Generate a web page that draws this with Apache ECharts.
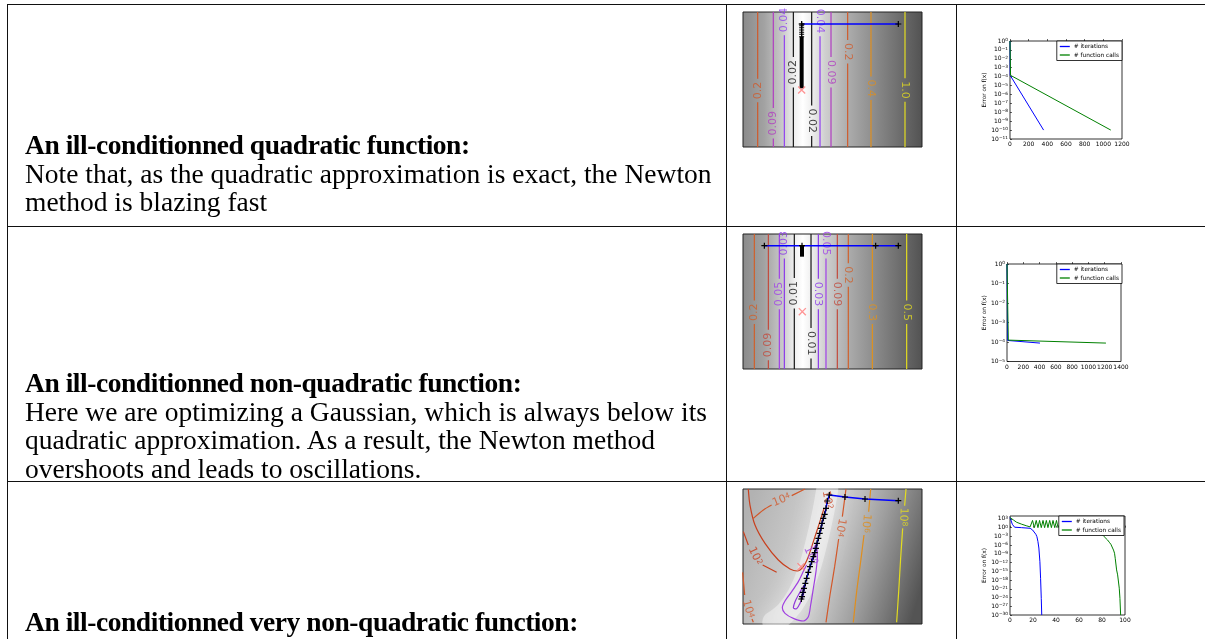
<!DOCTYPE html>
<html><head><meta charset="utf-8">
<script src="https://cdn.jsdelivr.net/npm/echarts@6.0.0/dist/echarts.min.js"></script>
<style>
html,body{margin:0;padding:0;background:#fff;width:1205px;height:639px;overflow:hidden}
#chart{position:absolute;left:0;top:0;width:1205px;height:639px}
.hl,.vl{position:absolute;background:#111}
.hl{height:1px}.vl{width:1px}
.txt{position:absolute;left:25px;font-family:'Liberation Serif','Times New Roman',serif;font-size:27.5px;line-height:28.5px;white-space:nowrap;color:#000}
.txt b{letter-spacing:-0.45px}
</style></head>
<body>
<div id="chart"></div>
<div class="hl" style="left:7px;top:4px;width:1198px"></div>
<div class="hl" style="left:7px;top:226px;width:1198px"></div>
<div class="hl" style="left:7px;top:481px;width:1198px"></div>
<div class="vl" style="left:7px;top:4px;height:635px"></div>
<div class="vl" style="left:726px;top:4px;height:635px"></div>
<div class="vl" style="left:956px;top:4px;height:635px"></div>
<div class="txt" style="top:131px"><b>An ill-conditionned quadratic function:</b><br>Note that, as the quadratic approximation is exact, the Newton<br>method is blazing fast</div>
<div class="txt" style="top:369px"><b>An ill-conditionned non-quadratic function:</b><br>Here we are optimizing a Gaussian, which is always below its<br>quadratic approximation. As a result, the Newton method<br>overshoots and leads to oscillations.</div>
<div class="txt" style="top:608px"><b>An ill-conditionned very non-quadratic function:</b></div>
<script>
// ================= DATA =================
const GAP = ['-', '-'];
const X_MIN = -1, X_MAX = 2, Y_MIN = -1, Y_MAX = 1.25;

// Panel A: ill-conditioned quadratic (vertical contour lines)
const levelsA   = ['0.2','0.09','0.04','0.02','0.02','0.04','0.09','0.2','0.4','1.0'];
const contourXA = [-0.754,-0.492,-0.307,-0.156,0.151,0.291,0.475,0.754,1.145,1.715];
const labelYA   = [-0.06,-0.606,1.117,0.244,-0.561,1.1,0.244,0.589,-0.022,-0.05];
const bluePathA  = [[1.603,1.05],[-0.017,1.05]];
const blackPathA = [[-0.017,1.05],[-0.017,1.022],[-0.017,0.989],[-0.017,0.95],[-0.017,0.911],[-0.017,0.878],[-0.017,0.839]];
const denseRunA  = [[-0.017,0.839],[-0.017,-0.022]];
const minimumA   = [-0.017,-0.05];

// Panel B: ill-conditioned non-quadratic (Gaussian)
const levelsB   = ['0.2','0.09','0.05','0.03','0.01','0.01','0.03','0.05','0.09','0.2','0.3','0.5'];
const contourXB = [-0.810,-0.575,-0.391,-0.307,-0.140,0.140,0.263,0.391,0.581,0.765,1.168,1.743];
const labelYB   = [-0.056,-0.6,0.25,1.094,0.261,-0.572,0.25,1.094,0.25,0.567,-0.056,-0.056];
const bluePathB = [[1.603,1.056],[1.223,1.056],[-0.011,1.056],[-0.642,1.056]];
const denseRunB = [[-0.011,1.067],[-0.011,0.872]];
const minimumB  = [-0.006,-0.044];

// Panel C: very non-quadratic (Rosenbrock-like) contour polylines
const rosen8   = [[1.732,1.25],[1.709,0.972],GAP,[1.676,0.594],[1.642,0.094],[1.609,-0.461],[1.575,-0.972]];
const rosen6   = [[1.140,1.25],[1.106,0.872],GAP,[1.028,0.483],[0.972,0.039],[0.905,-0.461],[0.849,-0.972]];
const rosen4r  = [[0.726,1.25],[0.665,0.789],GAP,[0.603,0.417],[0.536,-0.044],[0.458,-0.517],[0.391,-0.972]];
const rosen4tl = [[-0.827,0.761],[-0.659,0.9],[-0.520,0.983],GAP,[-0.184,1.139],[0.039,1.25]];
const rosen4bl = [[-1.006,-0.139],[-0.972,-0.517],GAP,[-0.849,-0.917],[-0.827,-0.972]];
const rosen2u  = [[-0.911,1.25],[-0.883,0.983],[-0.799,0.65],[-0.631,0.344],[-0.408,0.067],[-0.212,-0.083],[-0.089,-0.117],[0.011,-0.044],[0.095,0.122],[0.179,0.372],[0.279,0.678],[0.358,0.928]];
const rosen2l  = [[-0.994,0.539],[-0.911,0.317],GAP,[-0.670,-0.017],[-0.436,-0.139]];
const rosen0   = [[0.190,0.261],[0.223,0.328],[0.246,0.122],[0.223,-0.128],[0.179,-0.406],[0.134,-0.683],[0.095,-0.878],[0.011,-0.95],[-0.156,-0.906],[-0.296,-0.822],[-0.341,-0.728],[-0.296,-0.617],[-0.184,-0.461],[-0.073,-0.294],[0.022,-0.1],[0.067,-0.017]];
const rosenM1  = [[0.039,-0.35],[0.011,-0.517],[-0.045,-0.656],[-0.112,-0.75],[-0.156,-0.728],[-0.128,-0.628],[-0.056,-0.489],[0.011,-0.378],[0.039,-0.35]];
const rosenLabelPos = [[1.687,0.783],[1.061,0.678],[0.631,0.606],[-0.352,1.067],[-0.916,-0.75],[0.413,1.067],[-0.799,0.133],[0.134,0.139]];
const rosenLabelExp = ['8','6','4','4','4','2','2','0'];
const valleyC  = [[0.413,1.25],[0.346,0.872],[0.235,0.372],[0.095,-0.128],[-0.073,-0.517],[-0.268,-0.794],[-0.492,-0.972]];
const pathC = [[1.603,1.056],[1.045,1.083],[0.709,1.117],[0.447,1.15],[0.413,1.05],[0.391,0.928],[0.369,0.828],[0.346,0.761],[0.324,0.678],[0.307,0.594],[0.285,0.511],[0.263,0.428],[0.240,0.344],[0.223,0.261],[0.201,0.189],[0.179,0.122],[0.151,0.039],[0.123,-0.044],[0.095,-0.139],[0.067,-0.239],[0.045,-0.322],[0.022,-0.406],[0.006,-0.472],[-0.011,-0.544],[-0.022,-0.583]];
const minimumC = [-0.028,-0.044];

// Convergence panels: [iteration / call count, error on f(x)]
const itersD = [[0,1],[2,1.4e-4],[360,1e-10]];
const callsD = [[0,1],[6,1.4e-4],[1080,1e-10]];
const itersE = [[0,1],[8,1.2e-4],[405,8.8e-5]];
const callsE = [[0,1],[16,1.25e-4],[1215,8.8e-5]];
const itersF = [[0,3e3],[2,15],[4,1.4],[10,1.0],[17.5,0.6],[19.6,0.16],[21.3,4.5e-2],[22.5,5e-3],[23.4,8e-4],[24.3,1.6e-5],[25.1,1e-7],[26,2e-12],[26.6,4e-18],[27.2,5e-25],[27.6,1e-30]];
const callsF = [[0,2.9e3],[2.9,450],[5.8,70],[10.2,15],[14.6,4],[17.5,1.8],[19.6,300],[21.2,1],[22.8,300],[24.3,1],[25.7,300],[27.2,1],[28.7,300],[30.1,1],[31.6,300],[33,1],[34.5,300],[36,1],[37.4,300],[38.9,1],[40.4,300],[41.8,1],[44.7,300],[47.6,1],[50,20],[79,1.2e-2],[80.4,5e-3],[81.9,8e-4],[83.3,2.5e-4],[84.8,6e-5],[86.3,1e-5],[87.7,2e-6],[89.2,6e-7],[90,2e-8],[90.9,1.6e-9],[91.5,3e-11],[92.1,8e-12],[92.7,3e-15],[93.6,6e-17],[94.4,3e-17],[95,1.6e-21],[95.6,5e-25],[96.2,1e-30]];
const legendNames = ['# iterations', '# function calls'];

// ================= STYLE =================
const colorA = {'0.02':'#141414','0.04':'#9040f0','0.09':'#b03cc0','0.2':'#cf5a2c','0.4':'#df8e1e','1.0':'#e3dc20'};
const colorB = {'0.01':'#141414','0.03':'#8a38e8','0.05':'#a040e8','0.09':'#c24a3c','0.2':'#d0602a','0.3':'#df921e','0.5':'#e3dc20'};
const colorC = {'8':'#e3dc20','6':'#df8e1e','4':'#d2582a','2':'#c8401e','0':'#a040e0','-1':'#9038d8'};
const rosenLabelRot = [-92,-95,-100,22,-75,-80,-65,-65];
const PLUS = 'path://M4,0H6V10H4Z M0,4H10V6H0Z';
const CROSS = 'path://M0,1.2L1.2,0L10,8.8L8.8,10Z M8.8,0L10,1.2L1.2,10L0,8.8Z';
const FONT = 'DejaVu Sans';
const PX_Y = (Y_MAX - Y_MIN) / 135;

const G = echarts.graphic.LinearGradient;
const bgAB = () => new G(0,0,1,0,[
  {offset:0,color:'#8a8a8a'},{offset:0.12,color:'#a2a2a2'},{offset:0.22,color:'#c8c8c8'},
  {offset:0.29,color:'#f0f0f0'},{offset:0.335,color:'#ffffff'},{offset:0.38,color:'#f0f0f0'},
  {offset:0.46,color:'#cfcfcf'},{offset:0.6,color:'#a9a9a9'},{offset:0.8,color:'#7d7d7d'},{offset:1,color:'#525252'}]);
const bgC = new G(0,0.3,1,0.7,[
  {offset:0,color:'#b2b2b2'},{offset:0.25,color:'#c6c6c6'},{offset:0.42,color:'#d4d4d4'},
  {offset:0.55,color:'#bebebe'},{offset:0.7,color:'#9e9e9e'},{offset:0.85,color:'#7a7a7a'},{offset:1,color:'#545454'}]);

function halfLen(txt, fs){ let w = 0; for (const ch of txt) w += (ch === '.' ? 0.318 : 0.636); return w * fs / 2 + 3; }

function straightContours(gi, xs, ys, levels, colors, centre){
  const out = [];
  xs.forEach((x, i) => {
    const g = halfLen(levels[i], 11) * PX_Y;
    out.push({type:'line', xAxisIndex:gi, yAxisIndex:gi, symbol:'none', silent:true, z:2, connectNulls:false,
      lineStyle:{color:colors[levels[i]], width:1.2},
      data:[[x,Y_MAX],[x,ys[i]+g],GAP,[x,ys[i]-g],[x,Y_MIN]]});
  });
  out.push({type:'scatter', xAxisIndex:gi, yAxisIndex:gi, symbolSize:0, silent:true, z:3,
    data: xs.map((x,i)=>({value:[x,ys[i]], label:{show:true, position:'inside', formatter:levels[i],
      rotate: x < centre ? 90 : -90, color:colors[levels[i]], fontSize:11, fontFamily:FONT}}))});
  return out;
}
function pathSeries(gi, data, lineColor, width, symbol, symSize){
  return {type:'line', xAxisIndex:gi, yAxisIndex:gi, silent:true, z:4, data,
    symbol: symbol || 'none', symbolSize: symSize || 6, showAllSymbol:true,
    itemStyle:{color:'#000'}, lineStyle:{color:lineColor, width:width}};
}
function minSeries(gi, pt){
  return {type:'scatter', xAxisIndex:gi, yAxisIndex:gi, silent:true, z:5, data:[pt],
    symbol:CROSS, symbolSize:8, itemStyle:{color:'#ff7b7b'}};
}

const series = [];
series.push(...straightContours(0, contourXA, labelYA, levelsA, colorA, 0));
series.push(pathSeries(0, denseRunA, '#000', 4));
series.push(pathSeries(0, blackPathA, '#000', 1, PLUS, 5));
series.push(pathSeries(0, bluePathA, '#0000ff', 1.5, PLUS, 6));
series.push(minSeries(0, minimumA));

series.push(...straightContours(1, contourXB, labelYB, levelsB, colorB, 0));
series.push(pathSeries(1, bluePathB, '#0000ff', 1.5, PLUS, 6));
series.push(pathSeries(1, denseRunB, '#000', 4));
series.push(minSeries(1, minimumB));

// Panel C
series.push({type:'line', xAxisIndex:2, yAxisIndex:2, silent:true, z:1, symbol:'none', smooth:0.4, data:valleyC,
  lineStyle:{color:'rgba(255,255,255,0.4)', width:22, shadowBlur:22, shadowColor:'rgba(255,255,255,0.9)', cap:'round', join:'round'}});
[['8',rosen8],['6',rosen6],['4',rosen4r],['4',rosen4tl],['4',rosen4bl],['2',rosen2u],['2',rosen2l],['0',rosen0],['-1',rosenM1]]
 .forEach(([lv, d]) => series.push({type:'line', xAxisIndex:2, yAxisIndex:2, silent:true, z:2, symbol:'none', smooth:0.3,
   connectNulls:false, data:d, lineStyle:{color:colorC[lv], width:1.2}}));
series.push({type:'scatter', xAxisIndex:2, yAxisIndex:2, symbolSize:0, silent:true, z:3,
  data: rosenLabelPos.map((p,i)=>({value:p, label:{show:true, position:'inside', formatter:'10{s|'+rosenLabelExp[i]+'}',
    rotate:rosenLabelRot[i], color:colorC[rosenLabelExp[i]], fontSize:11, fontFamily:FONT,
    rich:{s:{fontSize:7.5, verticalAlign:'top', color:colorC[rosenLabelExp[i]], fontFamily:FONT}}}}))});
series.push(pathSeries(2, pathC, '#0000ff', 1.5, PLUS, 6));
series.push(minSeries(2, minimumC));

// Convergence panels (y plotted on a decade scale: log10 of the error)
const BLUE = '#0000ff', GREEN = '#008000';
const decades = arr => arr.map(([x, v]) => [x, Math.log10(v)]);
[[3,itersD,callsD],[4,itersE,callsE],[5,itersF,callsF]].forEach(([gi, it, ca]) => {
  series.push({type:'line', name:legendNames[0], xAxisIndex:gi, yAxisIndex:gi, data:decades(it), symbol:'none', color:BLUE, lineStyle:{width:1}, z:3});
  series.push({type:'line', name:legendNames[1], xAxisIndex:gi, yAxisIndex:gi, data:decades(ca), symbol:'none', color:GREEN, lineStyle:{width:1}, z:3});
});

function sup(v){
  const e = Math.round(v);
  return '10{s|' + (e < 0 ? '\u2212' + (-e) : String(Math.abs(e))) + '}';
}
const tickStyle = {show:true, inside:true, length:2, lineStyle:{color:'#000', width:0.6}};
function convX(gi, max, interval){
  return {type:'value', gridIndex:gi, min:0, max, interval, axisLine:{show:false}, splitLine:{show:false}, axisTick:tickStyle,
    axisLabel:{fontSize:6, fontFamily:FONT, color:'#000', margin:2.5, formatter:(v)=>String(v)}};
}
function convY(gi, min, max, interval, gap, hideMax){
  return {type:'value', gridIndex:gi, min, max, interval, axisLine:{show:false}, splitLine:{show:false}, axisTick:tickStyle,
    name:'Error on f(x)', nameLocation:'middle', nameRotate:90, nameGap:gap,
    nameTextStyle:{fontSize:5.8, fontFamily:FONT, color:'#000'},
    axisLabel:{formatter:sup, fontSize:6, fontFamily:FONT, color:'#000', margin:2,
      showMaxLabel: hideMax ? false : true, showMinLabel:true,
      rich:{s:{fontSize:4.3, verticalAlign:'top', fontFamily:FONT, color:'#000'}}}};
}
function hidden(gi, min, max){ return {type:'value', gridIndex:gi, min, max, show:false}; }
function mkLegend(top, right){
  return {top, right, orient:'vertical', data:legendNames, selectedMode:false, icon:'rect', itemWidth:10, itemHeight:1.3,
    itemGap:1.5, padding:[2,3,2,3], backgroundColor:'#fff', borderColor:'#000', borderWidth:0.8, borderRadius:0,
    textStyle:{fontSize:5.8, fontFamily:FONT, color:'#000', lineHeight:7, padding:[0,0,0,-1]}};
}
const contourGrid = (top, bg) => ({left:743, top, width:179, height:135, show:true, borderColor:'#222', borderWidth:1, backgroundColor:bg, outerBoundsMode:'none'});
const convGrid = (left, top, width, height) => ({left, top, width, height, show:true, borderColor:'#000', borderWidth:0.8, backgroundColor:'#fff', outerBoundsMode:'none'});

const option = {
  animation:false,
  grid:[contourGrid(12,bgAB()), contourGrid(234,bgAB()), contourGrid(489,bgC),
        convGrid(1010,41,112,98), convGrid(1007,264,114,97.5), convGrid(1010,516,115,99)],
  xAxis:[hidden(0,X_MIN,X_MAX), hidden(1,X_MIN,X_MAX), hidden(2,X_MIN,X_MAX),
         convX(3,1200,200), convX(4,1400,200), convX(5,100,20)],
  yAxis:[hidden(0,Y_MIN,Y_MAX), hidden(1,Y_MIN,Y_MAX), hidden(2,Y_MIN,Y_MAX),
         convY(3,-11,0,1,22,false), convY(4,-5,0,1,20,false), convY(5,-30,4,3,22,true)],
  legend:[mkLegend(41,83), mkLegend(264,83), mkLegend(516,81)],
  series
};
const chart = echarts.init(document.getElementById('chart'));
chart.setOption(option);
</script>
</body></html>
